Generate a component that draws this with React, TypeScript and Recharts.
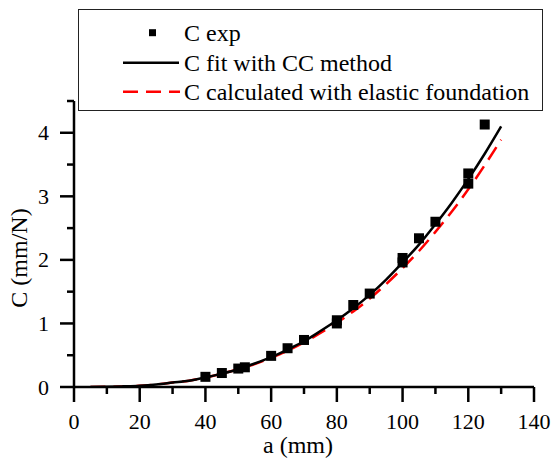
import React from 'react';
import { ComposedChart, Line, Scatter, XAxis, YAxis, Legend, Label } from 'recharts';

// Experimental points
const expA = [40, 45, 50, 52, 60, 65, 70, 80, 80, 85, 90, 100, 100, 105, 110, 120, 120, 125];
const expC = [0.16, 0.22, 0.29, 0.31, 0.49, 0.61, 0.74, 1.0, 1.05, 1.29, 1.47, 1.96, 2.03, 2.34, 2.6, 3.2, 3.36, 4.13];

// Curves
const curveA = [5, 10, 15, 20, 25, 30, 35, 40, 45, 50, 55, 60, 65, 70, 75, 80, 85, 90, 95, 100, 105, 110, 115, 120, 125, 130];
const fitC = [0.0, 0.003, 0.01, 0.02, 0.04, 0.07, 0.1, 0.15, 0.21, 0.28, 0.37, 0.47, 0.59, 0.72, 0.88, 1.05, 1.24, 1.45, 1.69, 1.96, 2.24, 2.56, 2.9, 3.27, 3.67, 4.1];
const calcC = [0.0, 0.003, 0.01, 0.02, 0.04, 0.07, 0.1, 0.15, 0.21, 0.28, 0.36, 0.46, 0.57, 0.7, 0.85, 1.01, 1.19, 1.39, 1.62, 1.87, 2.14, 2.44, 2.76, 3.11, 3.49, 3.89];

const xTicks = [0, 10, 20, 30, 40, 50, 60, 70, 80, 90, 100, 110, 120, 130, 140];
const yTicks = [0, 0.5, 1, 1.5, 2, 2.5, 3, 3.5, 4, 4.5];

const legendNames = ['C exp', 'C fit with CC method', 'C calculated with elastic foundation'];

const expData = expA.map((a, i) => ({ a, C: expC[i] }));
const fitData = curveA.map((a, i) => ({ a, C: fitC[i] }));
const calcData = curveA.map((a, i) => ({ a, C: calcC[i] }));

const FONT = "'Times New Roman', 'Liberation Serif', Tinos, 'DejaVu Serif', serif";
const txt = (size: number): React.CSSProperties => ({ fontFamily: FONT, fontSize: size });

const XTick = (props: any) => {
  const { x, y, payload } = props;
  const major = payload.value % 20 === 0;
  return (
    <g>
      <line x1={x} x2={x} y1={y} y2={y + (major ? 15 : 7)} stroke="#000" strokeWidth={2.5} />
      {major && (
        <text x={x} y={y + 42} textAnchor="middle" style={txt(22)} fill="#000">
          {payload.value}
        </text>
      )}
    </g>
  );
};

const YTick = (props: any) => {
  const { x, y, payload } = props;
  const major = Number.isInteger(payload.value);
  return (
    <g>
      <line x1={x - (major ? 14 : 7)} x2={x} y1={y} y2={y} stroke="#000" strokeWidth={2.5} />
      {major && (
        <text x={x - 25} y={y + 7.5} textAnchor="end" style={txt(22)} fill="#000">
          {payload.value}
        </text>
      )}
    </g>
  );
};

const SquareDot = (props: any) => {
  const { cx, cy } = props;
  return <rect x={cx - 5} y={cy - 5} width={10} height={10} fill="#000" />;
};

const LegendBox = () => {
  const rows = [22.7, 52.7, 81.7];
  return (
    <div style={{ width: 465, height: 102, boxSizing: 'border-box', border: '1.5px solid #222', background: '#fff' }}>
      <svg width={462} height={99} style={{ display: 'block' }}>
        <rect x={70} y={rows[0] - 3.5} width={7} height={7} fill="#000" />
        <line x1={44} x2={100} y1={rows[1]} y2={rows[1]} stroke="#000" strokeWidth={2.5} />
        <line x1={44} x2={101} y1={rows[2]} y2={rows[2]} stroke="#ff0000" strokeWidth={2.5} strokeDasharray="15 8" />
        {legendNames.map((n, i) => (
          <text key={n} x={105} y={rows[i] + 8} style={txt(24)} fill="#000">
            {n}
          </text>
        ))}
      </svg>
    </div>
  );
};

export default function App() {
  return (
    <div style={{ position: 'absolute', left: 0, top: 0, fontFamily: FONT }}>
      <ComposedChart width={554} height={462} margin={{ top: 101, right: 20, left: 0, bottom: 0 }}>
        <XAxis
          dataKey="a"
          type="number"
          domain={[0, 140]}
          ticks={xTicks}
          interval={0}
          height={75}
          tickSize={0}
          tickMargin={0}
          tickLine={false}
          tick={<XTick />}
          axisLine={{ stroke: '#000', strokeWidth: 2.5 }}
          allowDataOverflow
        >
          <Label
            content={() => (
              <text x={298} y={453} textAnchor="middle" style={txt(24)} fill="#000">
                a (mm)
              </text>
            )}
          />
        </XAxis>
        <YAxis
          dataKey="C"
          type="number"
          domain={[0, 4.5]}
          ticks={yTicks}
          interval={0}
          width={74}
          tickSize={0}
          tickMargin={0}
          tickLine={false}
          tick={<YTick />}
          axisLine={{ stroke: '#000', strokeWidth: 2.5 }}
          allowDataOverflow
        >
          <Label
            content={() => (
              <text x={27} y={258} transform="rotate(-90, 27, 258)" textAnchor="middle" style={txt(24)} fill="#000">
                C (mm/N)
              </text>
            )}
          />
        </YAxis>
        <Legend
          layout="vertical"
          align="center"
          verticalAlign="middle"
          content={() => <LegendBox />}
          wrapperStyle={{ position: 'absolute', left: 78, top: 9, width: 465, height: 102 }}
        />
        <Line data={calcData} dataKey="C" type="monotone" stroke="#ff0000" strokeWidth={2.5} strokeDasharray="15 8" dot={false} isAnimationActive={false} name={legendNames[2]} />
        <Line data={fitData} dataKey="C" type="monotone" stroke="#000" strokeWidth={2.5} dot={false} isAnimationActive={false} name={legendNames[1]} />
        <Scatter data={expData} dataKey="C" shape={<SquareDot />} isAnimationActive={false} name={legendNames[0]} />
      </ComposedChart>
    </div>
  );
}
